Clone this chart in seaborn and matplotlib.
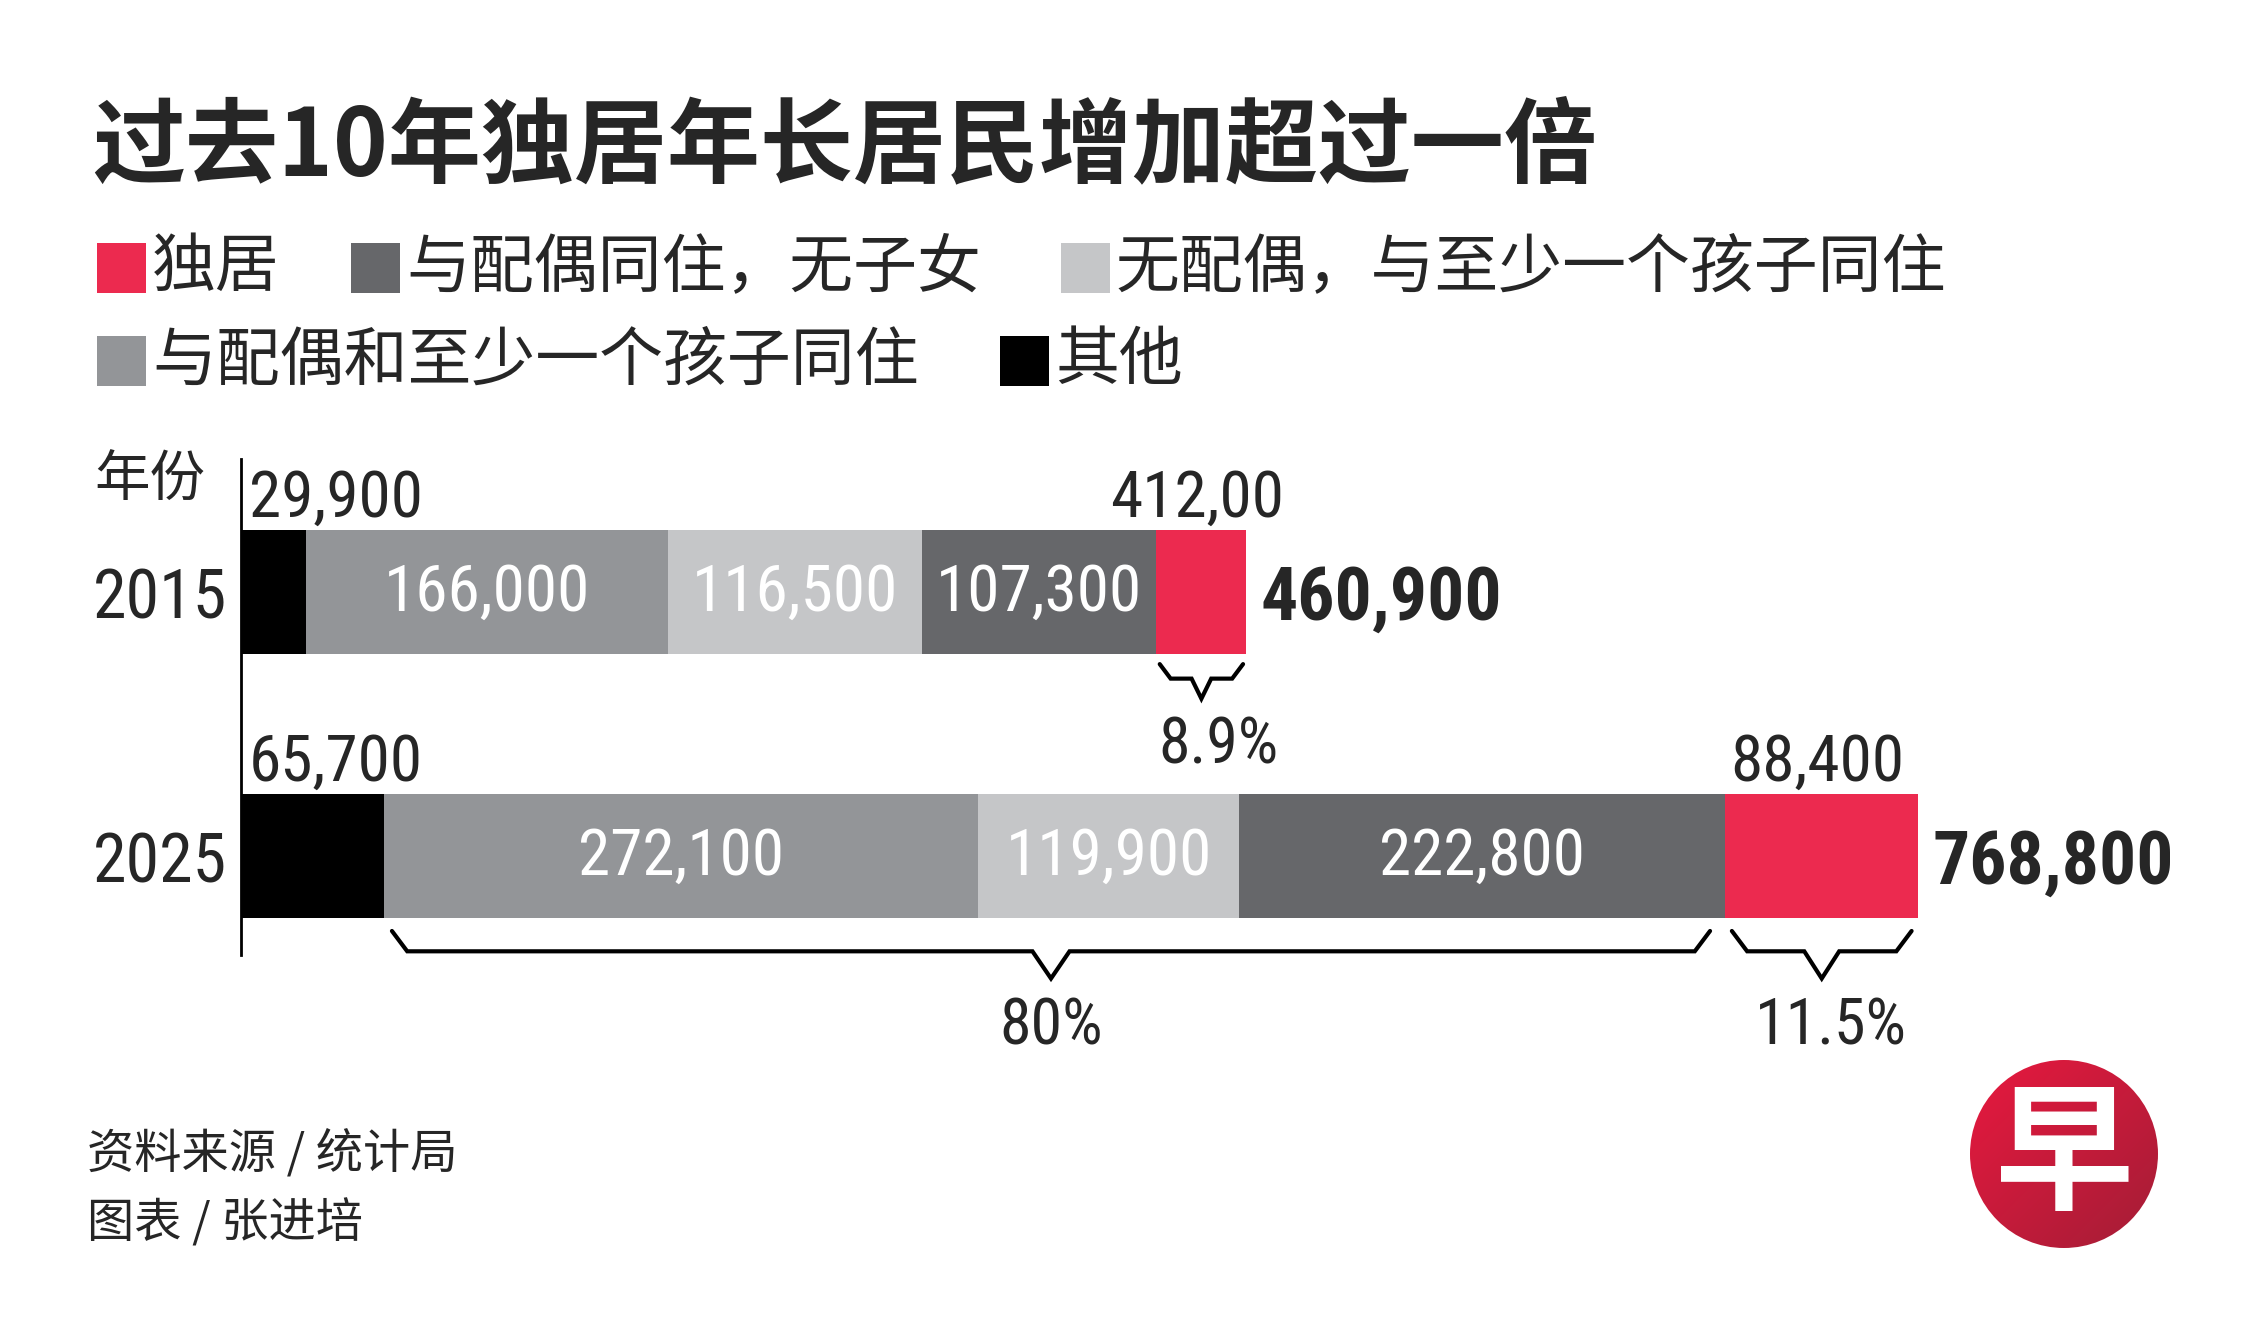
import numpy as np
import pandas as pd
import matplotlib
matplotlib.use("Agg")
import matplotlib.pyplot as plt
import seaborn as sns
from matplotlib import font_manager
from matplotlib.patches import Rectangle, Circle
from matplotlib.colors import LinearSegmentedColormap

# data
years = ['2015', '2025']
other = [29900, 65700]
couple_kids = [166000, 272100]
single_kids = [116500, 119900]
couple_only = [107300, 222800]
alone = [41200, 88400]
total_labels = ['460,900', '768,800']
other_labels = ['29,900', '65,700']
alone_labels = ['412,00', '88,400']
share_labels = ['8.9%', '80%', '11.5%']

seg_names = ['其他', '与配偶和至少一个孩子同住', '无配偶，与至少一个孩子同住',
             '与配偶同住，无子女', '独居']
seg_colors = ['#000000', '#939598', '#C5C6C8', '#66676A', '#EC2A4F']

sns.set_style('white')
CJK = ['Noto Sans CJK SC', 'DejaVu Sans']
plt.rcParams['font.family'] = CJK

names = {f.name for f in font_manager.fontManager.ttflist}
NUM = next((n for n in ['Liberation Sans Narrow', 'DejaVu Sans Condensed',
                        'Roboto Condensed', 'Open Sans Condensed']
            if n in names), 'Liberation Sans')

W, H = 2251, 1341
fig = plt.figure(figsize=(W / 100, H / 100), dpi=100)


def fx(x):
    return x / W


def fy(y):
    return 1 - y / H


# title
fig.text(fx(92), fy(148), '过去10年独居年长居民增加超过一倍', fontsize=67,
         fontweight='heavy', va='center', ha='left')

# legend
legend_items = [
    (4, 97, 268), (3, 351, 268), (2, 1061, 268),
    (1, 97, 361), (0, 1000, 361),
]
for idx, x, y in legend_items:
    fig.patches.append(Rectangle((fx(x), fy(y + 25)), 49 / W, 50 / H,
                                 transform=fig.transFigure,
                                 color=seg_colors[idx], lw=0))
    fig.text(fx(x + 55), fy(y), seg_names[idx], fontsize=46,
             va='center', ha='left')

fig.text(fx(94), fy(481), '年份', fontsize=40, va='center', ha='left')

# main bar axes
ax = fig.add_axes([fx(241), fy(955), (W - 241) / W, 496 / H])

df = pd.DataFrame({'year': years})
parts = [other, couple_kids, single_kids, couple_only, alone]
cum = np.cumsum(np.array(parts), axis=0)
for k in range(len(parts) - 1, -1, -1):
    df['cum'] = cum[k]
    sns.barplot(data=df, x='cum', y='year', orient='h', color=seg_colors[k],
                saturation=1, width=0.47, linewidth=0, ax=ax)

ax.set_xlim(0, 921500)
ax.set_ylim(1.375, -0.504)
ax.set_xlabel('')
ax.set_ylabel('')
ax.set_xticks([])
for s in ['top', 'right', 'bottom']:
    ax.spines[s].set_visible(False)
ax.spines['left'].set_linewidth(2)
ax.spines['left'].set_color('black')
ax.tick_params(axis='y', length=0, pad=10)
ax.set_yticks([0, 1])
ax.set_yticklabels(years, fontsize=49, family=NUM)

half = 0.47 / 2
for i in range(len(years)):
    # white labels inside the three grey segments
    for k in (1, 2, 3):
        start = cum[k - 1][i]
        ax.text(start + parts[k][i] / 2, i - 0.02, f'{parts[k][i]:,}',
                color='white', fontsize=47, family=NUM, ha='center',
                va='center_baseline')
    ax.text(3500, i - half - 0.05, other_labels[i], fontsize=47, family=NUM,
            ha='left', va='baseline')
    ax.text(cum[3][i] + alone[i] / 2 - 2000, i - half - 0.05, alone_labels[i],
            fontsize=47, family=NUM, ha='center', va='baseline')
    ax.text(cum[4][i] + 6500, i, total_labels[i], fontsize=53, family=NUM,
            fontweight='bold', ha='left', va='center_baseline')


def brace(x0, x1, y_top, y_mid, y_tip, slant, notch):
    xc = (x0 + x1) / 2
    xs = [x0, x0 + slant, xc - notch, xc, xc + notch, x1 - slant, x1]
    ys = [y_top, y_mid, y_mid, y_tip, y_mid, y_mid, y_top]
    ax.plot(xs, ys, color='black', lw=3, clip_on=False,
            solid_joinstyle='miter')
    return xc


# 2015: share of living alone
c = brace(cum[3][0] + 1500, cum[4][0] - 1500, 0.273, 0.328, 0.404, 5000, 4500)
ax.text(c + 8000, 0.557, share_labels[0], fontsize=46, family=NUM,
        ha='center', va='center_baseline')
# 2025: three grey groups, and living alone
c = brace(cum[0][1] + 3500, cum[3][1] - 7000, 1.284, 1.361, 1.464, 7000, 8500)
ax.text(c, 1.623, share_labels[1], fontsize=46, family=NUM,
        ha='center', va='center_baseline')
c = brace(cum[3][1] + 3000, cum[4][1] - 3000, 1.284, 1.361, 1.464, 7000, 8000)
ax.text(c + 4000, 1.623, share_labels[2], fontsize=46, family=NUM,
        ha='center', va='center_baseline')

# footer
fig.text(fx(87), fy(1154), '资料来源 / 统计局', fontsize=34, va='center', ha='left')
fig.text(fx(87), fy(1224), '图表 / 张进培', fontsize=34, va='center', ha='left')

# logo
lax = fig.add_axes([fx(1970), fy(1248), 188 / W, 188 / H])
lax.set_xlim(-1, 1)
lax.set_ylim(-1, 1)
lax.axis('off')
gx, gy = np.meshgrid(np.linspace(-1, 1, 200), np.linspace(1, -1, 200))
grad = (gx - gy)
cmap = LinearSegmentedColormap.from_list('logo', ['#E8193F', '#A31D36'])
circ = Circle((0, 0), 1, transform=lax.transData)
im = lax.imshow(grad, extent=(-1, 1, -1, 1), cmap=cmap, origin='upper')
im.set_clip_path(circ)
lax.text(0, -0.05, '早', color='white', fontsize=100, fontweight='bold',
         ha='center', va='center')

fig.savefig('out.png', dpi=100, facecolor='white')
